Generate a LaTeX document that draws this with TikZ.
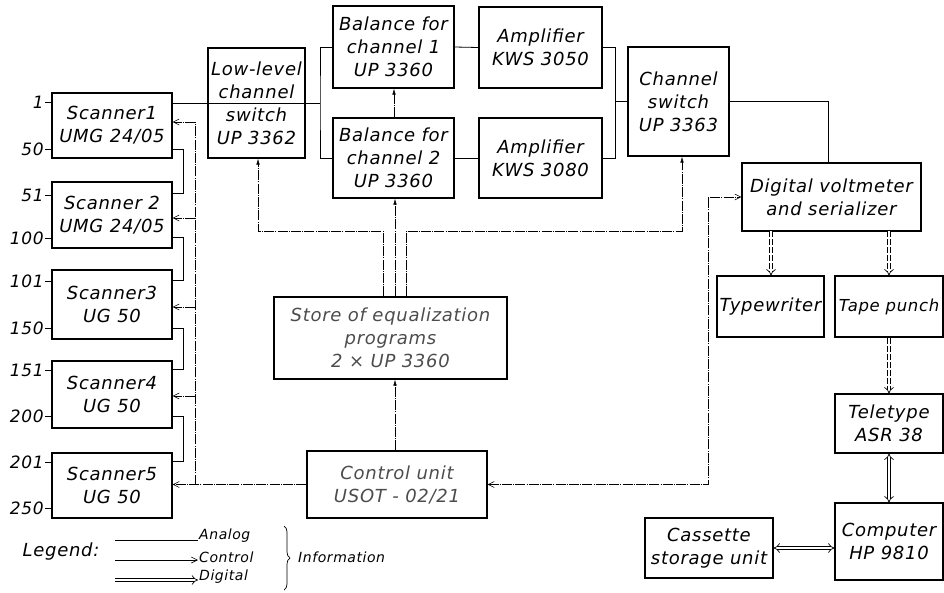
\documentclass[tikz,border=0pt]{standalone}
\usepackage{fontspec}
\newfontfamily\dinfont{DejaVu Sans}[ItalicFont={* Oblique},LetterSpace=4]
\usetikzlibrary{arrows.meta,decorations.pathreplacing}
\newcommand\boxfont{\dinfont\itshape\fontsize{18}{23}\selectfont}
\newcommand\numfont{\dinfont\itshape\fontsize{17}{20}\selectfont}
\newcommand\legfont{\dinfont\itshape\fontsize{14}{16}\selectfont}
\begin{document}
\begin{tikzpicture}[x=1pt,y=-1pt,
  box/.style={draw, line width=1.1pt, inner sep=0pt, align=center, font=\boxfont},
  fadedbox/.style={box, text=black!70},
  numlab/.style={font=\numfont, inner sep=1pt},
  legtext/.style={font=\legfont, inner sep=1pt},
  analog/.style={line width=0.8pt},
  ctrl/.style={line width=0.6pt, dash pattern=on 10pt off 1.2pt on 1pt off 1.2pt},
  ctrlarr/.style={ctrl, -{Straight Barb[length=6pt,width=6pt]}},
  ctrlboth/.style={ctrl, {Straight Barb[length=6pt,width=6pt]}-{Straight Barb[length=6pt,width=6pt]}},
  ctrlup/.style={ctrl, -{Latex[length=6pt,width=3.5pt]}},
  digital/.style={double, double distance=2.6pt, line width=0.7pt, -{Implies[scale=1.3]}},
  digitalboth/.style={double, double distance=2.6pt, line width=0.7pt, {Implies[scale=1.3]}-{Implies[scale=1.3]}},
  digidash/.style={dash pattern=on 6pt off 2pt}
]
\useasboundingbox (0,0) rectangle (944,592);

% scanners
\node[box, minimum width=120pt, minimum height=65pt] (s1) at (112,125.5) {Scanner1\\UMG 24/05};
\node[box, minimum width=120pt, minimum height=66pt] (s2) at (112,215) {Scanner 2\\UMG 24/05};
\node[box, minimum width=120pt, minimum height=69pt] (s3) at (112,304.5) {Scanner3\\UG 50};
\node[box, minimum width=120pt, minimum height=67pt] (s4) at (112,394.5) {Scanner4\\UG 50};
\node[box, minimum width=120pt, minimum height=65pt] (s5) at (112,485.5) {Scanner5\\UG 50};

% channel numbers
\foreach \lab/\yy/\sc in {1/102/s1, 50/149/s1, 51/195/s2, 100/238/s2, 101/281/s3, 150/328/s3, 151/370/s4, 200/416/s4, 201/462/s5, 250/508/s5}{
  \node[numlab, anchor=east] (n\lab) at (45,\yy) {\lab};
  \draw[analog] (n\lab.east) -- (\sc.west |- n\lab.east);
}

% other boxes
\node[box, minimum width=97pt, minimum height=110pt] (low) at (256.5,103) {Low-level\\channel\\switch\\UP 3362};
\node[box, minimum width=121pt, minimum height=82pt] (bal1) at (393.5,47) {Balance for\\channel 1\\UP 3360};
\node[box, minimum width=121pt, minimum height=80pt] (bal2) at (393.5,158) {Balance for\\channel 2\\UP 3360};
\node[box, minimum width=123pt, minimum height=81pt] (amp1) at (540.5,47.5) {Amplifier\\KWS 3050};
\node[box, minimum width=123pt, minimum height=80pt] (amp2) at (540.5,158) {Amplifier\\KWS 3080};
\node[box, minimum width=101pt, minimum height=109pt] (chs) at (678.5,101.5) {Channel\\switch\\UP 3363};
\node[box, minimum width=179pt, minimum height=68pt] (dvm) at (831.5,197) {Digital voltmeter\\and serializer};
\node[fadedbox, minimum width=233pt, minimum height=82pt] (store) at (390.5,338) {Store of equalization\\programs\\2 × UP 3360};
\node[fadedbox, minimum width=180pt, minimum height=67pt] (ctrlu) at (397,484.5) {Control unit\\USOT - 02/21};
\node[box, minimum width=107pt, minimum height=61pt] (typ) at (770.5,306.5) {Typewriter};
\node[box, minimum width=108pt, minimum height=61pt, font=\dinfont\itshape\fontsize{16.5}{20}\selectfont] (tape) at (889,306.5) {Tape punch};
\node[box, minimum width=108pt, minimum height=59pt] (tele) at (889,423.5) {Teletype\\ASR 38};
\node[box, minimum width=108pt, minimum height=77pt] (comp) at (889,541.5) {Computer\\HP 9810};
\node[box, minimum width=128pt, minimum height=60pt] (cas) at (709,548) {Cassette\\storage unit};

% analog connections
\draw[analog] ([yshift=9pt]s1.south east) -- ++(11,0) |- ([yshift=-12pt]s2.north east);
\draw[analog] ([yshift=11pt]s2.south east) -- ++(11,0) |- ([yshift=-11pt]s3.north east);
\draw[analog] ([yshift=11pt]s3.south east) -- ++(11,0) |- ([yshift=-9pt]s4.north east);
\draw[analog] ([yshift=12pt]s4.south east) -- ++(11,0) |- ([yshift=-9pt]s5.north east);
\draw[analog] (s1.east |- low.east) -- (low.east);
\coordinate (jL) at (320,103);
\draw[analog] (low.east) -- (jL);
\draw[analog] (bal1.west) -| (jL) |- (bal2.west);
\draw[analog] (bal1.east) -- (amp1.west);
\draw[analog] (bal2.east) -- (amp2.west);
\coordinate (jR) at (615,101.5);
\draw[analog] (amp1.east) -| (jR) |- (amp2.east);
\draw[analog] (jR) -- (chs.west);
\draw[analog] (chs.east) -| ([xshift=-3pt]dvm.north);

% control connections
\coordinate (bus) at (195,484.5);
\draw[ctrlarr] (ctrlu.west) -- (s5.east |- ctrlu.west);
\draw[ctrl] (bus) -- (195,122);
\foreach \yy/\sc in {122/s1, 218/s2, 307/s3, 396/s4}{
  \coordinate (b\sc) at (195,\yy);
  \draw[ctrlarr] (b\sc) -- (\sc.east |- b\sc);
}
\coordinate (cL) at (258,231);
\coordinate (cR) at (682,231);
\draw[ctrlup] (store.north -| 383,0) |- (cL) -- (low.south -| cL);
\draw[ctrlup] (store.north -| 395,0) -- (bal2.south -| 395,0);
\draw[ctrlup] (bal2.north -| 394,0) -- (bal1.south -| 394,0);
\draw[ctrlup] (store.north -| 406,0) |- (cR) -- (chs.south -| cR);
\draw[ctrlup] (ctrlu.north -| 395,0) -- (store.south -| 395,0);
\coordinate (cD) at (708,0);
\draw[ctrlboth] (ctrlu.east) -| (dvm.west -| cD) -- (dvm.west);

% digital connections
\coordinate (dT) at (771,231);
\coordinate (dP) at (889,231);
\draw[digital, digidash] (dT) -- (typ.north -| dT);
\draw[digital, digidash] (dP) -- (tape.north -| dP);
\draw[digital, digidash] (tape.south) -- (tele.north);
\draw[digitalboth] (tele.south) -- (comp.north);
\draw[digitalboth] (cas.east) -- (comp.west |- cas.east);

% legend
\node[font=\boxfont, inner sep=0pt] (leg) at (61,552) {Legend:};
\node[legtext, anchor=west] (ta) at (198,536) {Analog};
\node[legtext, anchor=west] (tc) at (198,557) {Control};
\node[legtext, anchor=west] (td) at (198,577) {Digital};
\coordinate (a0) at (115,540);
\coordinate (c0) at (115,560);
\coordinate (d0) at (115,580);
\draw[analog] (a0) -- (a0 -| ta.west);
\draw[line width=0.6pt, -{Straight Barb[length=6pt,width=6pt]}] (c0) -- (c0 -| tc.west);
\draw[digital] (d0) -- (d0 -| td.west);
\draw[line width=0.7pt, decorate, decoration={brace, amplitude=6pt}] (284,526) -- (284,590);
\node[legtext, anchor=west] (ti) at (297,557) {Information};
\end{tikzpicture}
\end{document}
